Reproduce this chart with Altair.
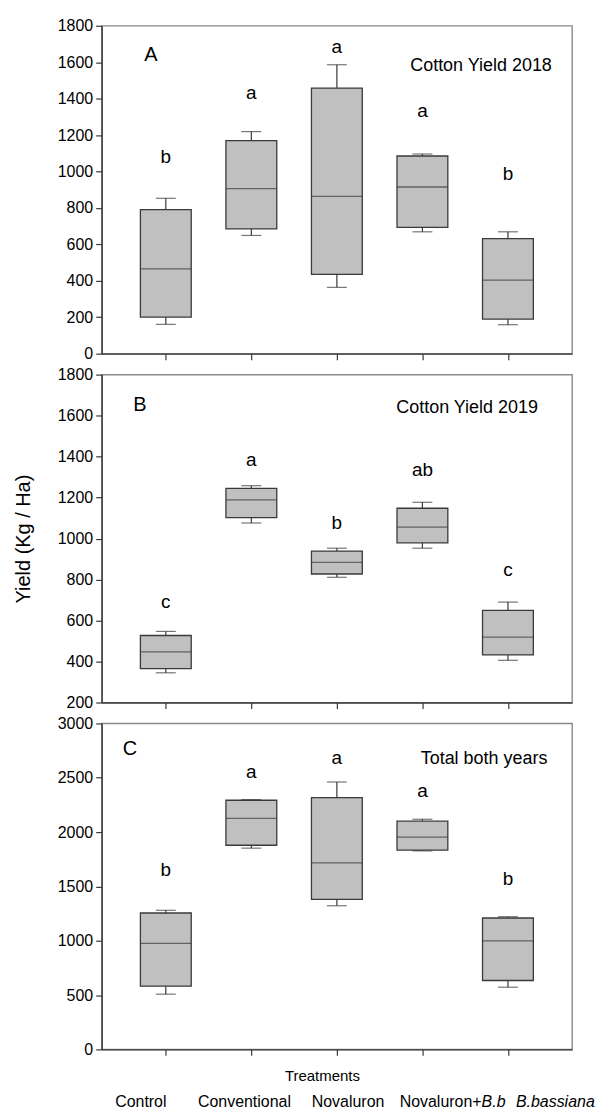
import altair as alt
import pandas as pd

treatments = ["Control", "Conventional", "Novaluron", "Novaluron+B.b", "B.bassiana"]

# Panel A - Cotton Yield 2018
a_min = [161, 649, 364, 669, 159]
a_q1 = [201, 685, 435, 693, 190]
a_med = [466, 906, 864, 915, 404]
a_q3 = [791, 1170, 1458, 1085, 632]
a_max = [853, 1219, 1586, 1096, 669]
a_letters = ["b", "a", "a", "a", "b"]
a_letter_y = [1078, 1431, 1685, 1334, 987]

# Panel B - Cotton Yield 2019
b_min = [345, 1076, 811, 953, 406]
b_q1 = [365, 1102, 827, 979, 432]
b_med = [447, 1189, 884, 1056, 519]
b_q3 = [527, 1245, 939, 1148, 650]
b_max = [547, 1258, 953, 1177, 690]
b_letters = ["c", "a", "b", "ab", "c"]
b_letter_y = [692, 1385, 1074, 1334, 848]

# Panel C - Total both years
c_min = [508, 1852, 1322, 1827, 572]
c_q1 = [582, 1879, 1381, 1834, 634]
c_med = [976, 2127, 1717, 1953, 998]
c_q3 = [1255, 2293, 2317, 2100, 1209]
c_max = [1280, 2299, 2461, 2118, 1221]
c_letters = ["b", "a", "a", "a", "b"]
c_letter_y = [1647, 2556, 2684, 2378, 1570]

FONT = "Liberation Sans"
DARK = "#3a3a3a"
W = 472
H = 329
BOXW = 51
CAPW = 20


def panel(mins, q1s, meds, q3s, maxs, letters, letter_y, domain, ticks,
          tag, tag_y, tag_dx, title, title_y, title_dx, ytitle=None, bottom=False):
    df = pd.DataFrame({"treatment": treatments, "lo": mins, "q1": q1s,
                       "med": meds, "q3": q3s, "hi": maxs,
                       "letter": letters, "ly": letter_y})
    if bottom:
        xaxis = alt.Axis(labels=False, title="Treatments", titleFont=FONT,
                         titleFontSize=15, titleFontWeight="normal", titleColor="black",
                         titleX=221, titleY=26, titleBaseline="middle", titleAlign="center")
    else:
        xaxis = alt.Axis(labels=False, title=None)
    yargs = dict(values=ticks, format="d")
    if ytitle:
        yaxis = alt.Axis(title=ytitle, titleFont=FONT, titleFontSize=20,
                         titleFontWeight="normal", titleColor="black",
                         titlePadding=24, **yargs)
    else:
        yaxis = alt.Axis(title=None, **yargs)
    xs = alt.Scale(type="point", domain=treatments, padding=0.75)
    ys = alt.Scale(domain=domain, nice=False, zero=False)

    def X():
        return alt.X("treatment:N", sort=treatments, scale=xs, axis=xaxis)

    def Y(f):
        return alt.Y(f + ":Q", scale=ys, axis=yaxis)

    base = alt.Chart(df)
    w_lo = base.mark_rule(color=DARK, strokeWidth=1.2).encode(x=X(), y=Y("lo"), y2="q1:Q")
    w_hi = base.mark_rule(color=DARK, strokeWidth=1.2).encode(x=X(), y=Y("q3"), y2="hi:Q")
    cap_lo = base.mark_tick(size=CAPW, thickness=1.2, color=DARK).encode(x=X(), y=Y("lo"))
    cap_hi = base.mark_tick(size=CAPW, thickness=1.2, color=DARK).encode(x=X(), y=Y("hi"))
    box = base.mark_bar(size=BOXW, fill="#c0c0c0", stroke=DARK, strokeWidth=1.3).encode(
        x=X(), y=Y("q1"), y2="q3:Q")
    med = base.mark_tick(size=BOXW, thickness=1.3, color=DARK).encode(x=X(), y=Y("med"))
    let = base.mark_text(font=FONT, fontSize=19, color="black", baseline="middle").encode(
        x=X(), y=Y("ly"), text="letter:N")
    tag_df = pd.DataFrame({"treatment": ["Control"], "ly": [tag_y], "t": [tag]})
    tag_l = alt.Chart(tag_df).mark_text(font=FONT, fontSize=20, color="black",
                                        baseline="middle", dx=tag_dx).encode(
        x=X(), y=Y("ly"), text="t:N")
    ttl_df = pd.DataFrame({"treatment": ["B.bassiana"], "ly": [title_y], "t": [title]})
    ttl_l = alt.Chart(ttl_df).mark_text(font=FONT, fontSize=18, color="black",
                                        baseline="middle", dx=title_dx).encode(
        x=X(), y=Y("ly"), text="t:N")
    boxes = alt.layer(w_lo, w_hi, cap_lo, cap_hi, box, med, let, tag_l, ttl_l)
    if not bottom:
        return boxes.properties(width=W, height=H)

    # category labels below "Treatments", spread wider than the ticks
    ls = alt.Scale(type="point", domain=treatments, padding=0.27, align=0.7)
    lab_y = H + 51
    normal = pd.DataFrame({"treatment": ["Control", "Conventional", "Novaluron"],
                           "t": ["Control", "Conventional", "Novaluron"]})
    l1 = alt.Chart(normal).mark_text(font=FONT, fontSize=16, color="black",
                                     baseline="middle").encode(
        x=alt.X("treatment:N", scale=ls, axis=None), y=alt.value(lab_y), text="t:N")
    nb = pd.DataFrame({"treatment": ["Novaluron+B.b"], "t": ["Novaluron+"]})
    l2 = alt.Chart(nb).mark_text(font=FONT, fontSize=16, color="black", baseline="middle",
                                 align="right", dx=30).encode(
        x=alt.X("treatment:N", scale=ls, axis=None), y=alt.value(lab_y), text="t:N")
    bb = pd.DataFrame({"treatment": ["Novaluron+B.b"], "t": ["B.b"]})
    l3 = alt.Chart(bb).mark_text(font=FONT, fontSize=16, color="black", baseline="middle",
                                 align="left", dx=30, fontStyle="italic").encode(
        x=alt.X("treatment:N", scale=ls, axis=None), y=alt.value(lab_y), text="t:N")
    bs = pd.DataFrame({"treatment": ["B.bassiana"], "t": ["B.bassiana"]})
    l4 = alt.Chart(bs).mark_text(font=FONT, fontSize=16, color="black", baseline="middle",
                                 fontStyle="italic").encode(
        x=alt.X("treatment:N", scale=ls, axis=None), y=alt.value(lab_y), text="t:N")
    labels = alt.layer(l1, l2, l3, l4)
    return alt.layer(boxes, labels).resolve_scale(x="independent").properties(width=W, height=H - 2)


pA = panel(a_min, a_q1, a_med, a_q3, a_max, a_letters, a_letter_y, [0, 1800],
           list(range(0, 1801, 200)), "A", 1639, -15, "Cotton Yield 2018", 1580, -27)
pB = panel(b_min, b_q1, b_med, b_q3, b_max, b_letters, b_letter_y, [200, 1800],
           list(range(200, 1801, 200)), "B", 1652, -26, "Cotton Yield 2019", 1639, -41,
           ytitle="Yield (Kg / Ha)")
pC = panel(c_min, c_q1, c_med, c_q3, c_max, c_letters, c_letter_y, [0, 3000],
           list(range(0, 3001, 500)), "C", 2764, -36, "Total both years", 2672, -24,
           bottom=True)

chart = alt.vconcat(pA, pB, pC, spacing=21, bounds="flush").properties(
    padding={"top": 15, "left": 12, "right": 5, "bottom": 0},
    background="white",
).configure_view(
    stroke="#8a8a8a", strokeWidth=1.4
).configure_axis(
    grid=False, domainColor=DARK, domainWidth=1.4, tickColor=DARK, tickWidth=1.2,
    tickSize=6, labelFont=FONT, labelFontSize=16, labelColor="black", labelPadding=3,
)

chart.save("out.html", embed_options={"renderer": "svg", "actions": False})
